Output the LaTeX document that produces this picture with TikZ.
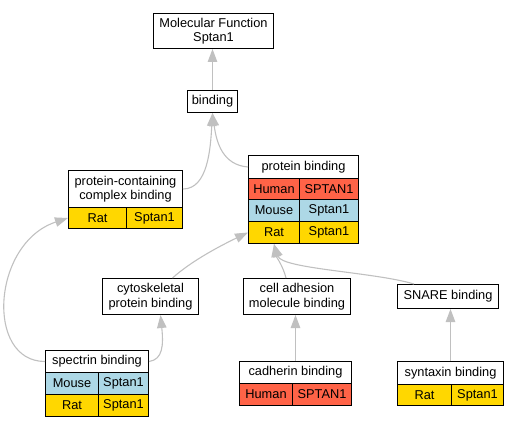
\documentclass[tikz,border=0pt]{standalone}
\usepackage{fontspec}
\setmainfont{Liberation Sans}
\usepackage{tikz}
\usetikzlibrary{arrows.meta}
\definecolor{edgegray}{HTML}{C0C0C0}
\definecolor{human}{HTML}{FF6347}
\definecolor{mouse}{HTML}{ADD8E6}
\definecolor{rat}{HTML}{FFD700}
\tikzstyle{term} = [draw, line width=1pt, inner sep=0pt, anchor=north west, align=center, font=\fontsize{12.8}{14.5}\selectfont]
\tikzstyle{edge} = [draw=edgegray, line width=1.1pt, -{Triangle[length=13pt,width=9.5pt]}]

\begin{document}
\begin{tikzpicture}[x=1pt, y=-1pt]
        \useasboundingbox (0, 0) rectangle (518, 427);
        \node[term, minimum width=120pt, minimum height=35pt] (mf) at (153, 13) {Molecular Function\\Sptan1};
        \node[term, minimum width=50pt, minimum height=22pt] (bind) at (187, 90) {binding};
        \node[term, minimum width=110pt, minimum height=23pt] (prot) at (248, 155) {protein binding};
        \node[term, fill=human, minimum width=51pt, minimum height=21pt] (protHs) at (248, 178) {Human};
        \node[term, fill=human, minimum width=59pt, minimum height=21pt] (protHsG) at (299, 178) {SPTAN1};
        \node[term, fill=mouse, minimum width=51pt, minimum height=22pt] (protMm) at (248, 199) {Mouse};
        \node[term, fill=mouse, minimum width=59pt, minimum height=22pt] (protMmG) at (299, 199) {Sptan1};
        \node[term, fill=rat, minimum width=51pt, minimum height=22pt] (protRn) at (248, 221) {Rat};
        \node[term, fill=rat, minimum width=59pt, minimum height=22pt] (protRnG) at (299, 221) {Sptan1};
        \node[term, minimum width=114pt, minimum height=37pt] (cplx) at (68, 170) {protein-containing\\complex binding};
        \node[term, fill=rat, minimum width=58pt, minimum height=21pt] (cplxRn) at (68, 207) {Rat};
        \node[term, fill=rat, minimum width=56pt, minimum height=21pt] (cplxRnG) at (126, 207) {Sptan1};
        \node[term, minimum width=96pt, minimum height=36pt] (cyto) at (102, 278) {cytoskeletal\\protein binding};
        \node[term, minimum width=107pt, minimum height=36pt] (adh) at (243, 278) {cell adhesion\\molecule binding};
        \node[term, minimum width=101pt, minimum height=24pt] (snare) at (397, 284) {SNARE binding};
        \node[term, minimum width=103pt, minimum height=22pt] (spec) at (45, 350) {spectrin binding};
        \node[term, fill=mouse, minimum width=53pt, minimum height=22pt] (specMm) at (45, 372) {Mouse};
        \node[term, fill=mouse, minimum width=50pt, minimum height=22pt] (specMmG) at (98, 372) {Sptan1};
        \node[term, fill=rat, minimum width=53pt, minimum height=22pt] (specRn) at (45, 394) {Rat};
        \node[term, fill=rat, minimum width=50pt, minimum height=22pt] (specRnG) at (98, 394) {Sptan1};
        \node[term, minimum width=112pt, minimum height=22pt] (cadh) at (239, 361) {cadherin binding};
        \node[term, fill=human, minimum width=53pt, minimum height=22pt] (cadhHs) at (239, 383) {Human};
        \node[term, fill=human, minimum width=59pt, minimum height=22pt] (cadhHsG) at (292, 383) {SPTAN1};
        \node[term, minimum width=106pt, minimum height=23pt] (synt) at (397, 361) {syntaxin binding};
        \node[term, fill=rat, minimum width=54pt, minimum height=21pt] (syntRn) at (397, 384) {Rat};
        \node[term, fill=rat, minimum width=52pt, minimum height=21pt] (syntRnG) at (451, 384) {Sptan1};
        \draw[edge] (bind.north) -- (bind.north |- mf.south);
        \draw[edge] (prot.west) .. controls +(-25, -2) and +(4, 30) .. (bind.south);
        \draw[edge] (cplx.east) .. controls +(25, 0) and +(-2, 35) .. (bind.south);
        \draw[edge] ([xshift=22pt]cyto.north) .. controls +(20, -18) and +(-25, 12) .. (protRn.west);
        \draw[edge] ([xshift=-11pt]adh.north) .. controls +(-3, -12) and +(2, 12) .. (protRn.south);
        \draw[edge] ([xshift=-34pt]snare.north) .. controls +(-40, -12) and +(8, 25) .. (protRn.south);
        \draw[edge] (cadh.north) -- (cadh.north |- adh.south);
        \draw[edge] (synt.north) -- (synt.north |- snare.south);
        \draw[edge] (spec.west) .. controls +(-60, 0) and +(-76, 25) .. (cplxRn.west);
        \draw[edge] (spec.east) .. controls +(14, -2) and +(3, 30) .. ([xshift=10pt]cyto.south);
\end{tikzpicture}
\end{document}
